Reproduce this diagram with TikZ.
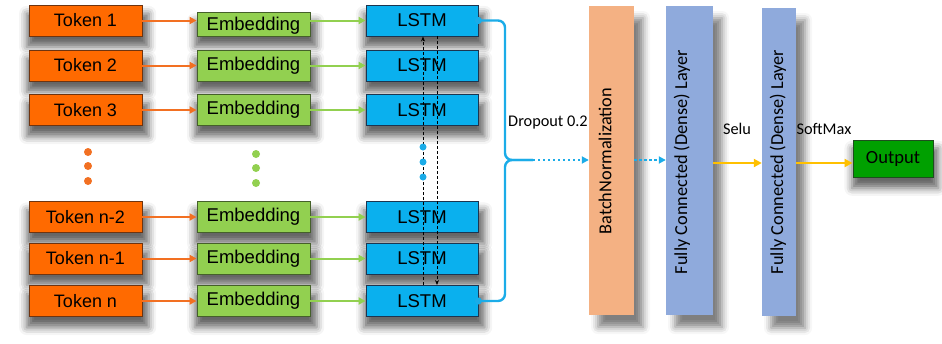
\documentclass[tikz,border=0pt]{standalone}
\usepackage{fontspec}
\setmainfont{Liberation Sans}
\newfontfamily\calfont{Carlito}
\usetikzlibrary{shadows.blur,arrows.meta,calc}

\definecolor{tokfill}{HTML}{FF6A00}
\definecolor{tokline}{HTML}{6E3410}
\definecolor{embfill}{HTML}{92D050}
\definecolor{embline}{HTML}{45602A}
\definecolor{lstmfill}{HTML}{0AB0EE}
\definecolor{lstmline}{HTML}{1C3550}
\definecolor{bnfill}{HTML}{F4B183}
\definecolor{densefill}{HTML}{8FAADC}
\definecolor{outfill}{HTML}{00A000}
\definecolor{outline}{HTML}{1E4E1E}
\definecolor{orarrow}{HTML}{F27022}
\definecolor{grarrow}{HTML}{92D050}
\definecolor{bluebr}{HTML}{1BACE8}
\definecolor{yelarrow}{HTML}{FFC000}

\tikzset{
  softshadow/.style={blur shadow={shadow xshift=2pt, shadow yshift=-9pt,
      shadow blur radius=7pt, shadow scale=1.08, shadow opacity=60}},
  tallshadow/.style={blur shadow={shadow xshift=9pt, shadow yshift=-12pt,
      shadow blur radius=7pt, shadow opacity=50}},
  rowbox/.style={draw, line width=0.9pt, minimum height=31pt, inner sep=0pt,
      softshadow},
  tokbox/.style={rowbox, fill=tokfill, draw=tokline, minimum width=113pt,
      font=\fontsize{18}{21}\selectfont},
  embbox/.style={rowbox, fill=embfill, draw=embline, minimum width=113pt,
      font=\fontsize{18.5}{21}\selectfont},
  lstmbox/.style={rowbox, fill=lstmfill, draw=lstmline, minimum width=112pt,
      font=\fontsize{18.5}{21}\selectfont},
  tallbox/.style={inner sep=0pt, tallshadow},
  layertext/.style={rotate=90, font=\calfont\fontsize{18.3}{21}\selectfont},
  labeltext/.style={font=\calfont\fontsize{16.3}{19}\selectfont},
  orangearrow/.style={draw=orarrow, line width=2pt,
      -{Triangle[length=7pt,width=7pt]}},
  greenarrow/.style={draw=grarrow, line width=2pt,
      -{Triangle[length=7pt,width=7pt]}},
  blueline/.style={draw=bluebr, line width=2.4pt},
  bluedotted/.style={draw=bluebr, line width=2.4pt, dash pattern=on 2.4pt off 2.6pt,
      -{Triangle[length=7pt,width=7pt]}},
  yellowarrow/.style={draw=yelarrow, line width=2.4pt,
      -{Triangle[length=8pt,width=8pt]}},
  recurrent/.style={draw=black, line width=0.8pt, dash pattern=on 3pt off 2pt,
      -{Stealth[length=5pt,width=4pt]}},
  dotmark/.style={circle, inner sep=0pt, minimum size=8pt},
}

\begin{document}
\begin{tikzpicture}[x=1pt,y=-1pt]
\useasboundingbox (0,0) rectangle (942,343);

% token column
\node[tokbox] (t1) at (85.5,20.5) {Token 1};
\node[tokbox] (t2) at (85.5,65.5) {Token 2};
\node[tokbox] (t3) at (85.5,110) {Token 3};
\node[tokbox] (t4) at (85.5,217) {Token n-2};
\node[tokbox] (t5) at (85.5,258.5) {Token n-1};
\node[tokbox] (t6) at (85.5,301) {Token n};

% embedding column
\node[embbox, minimum height=24pt, text depth=-3pt] (e1) at (253.5,24) {Embedding};
\node[embbox] (e2) at (253.5,65.5) {Embedding};
\node[embbox] (e3) at (253.5,110) {Embedding};
\node[embbox] (e4) at (253.5,217) {Embedding};
\node[embbox] (e5) at (253.5,258.5) {Embedding};
\node[embbox] (e6) at (253.5,301) {Embedding};

% LSTM column
\node[lstmbox] (l1) at (422,20.5) {LSTM};
\node[lstmbox] (l2) at (422,65.5) {LSTM};
\node[lstmbox] (l3) at (422,110) {LSTM};
\node[lstmbox] (l4) at (422,217) {LSTM};
\node[lstmbox] (l5) at (422,258.5) {LSTM};
\node[lstmbox] (l6) at (422,301) {LSTM};

% ellipsis dots
\foreach \i/\y in {1/152,2/166,3/181}{
  \node[dotmark, fill=orarrow] (od\i) at (88,\y) {};
  \node[dotmark, fill=grarrow] (gd\i) at (256,\y+2) {};
}

% token -> embedding -> LSTM, level with each row
\foreach \i in {1,...,6}{
  \draw[orangearrow] (t\i.east) -- (e\i.west |- t\i.east);
  \draw[greenarrow] (e\i.east |- l\i.west) -- (l\i.west);
}

% recurrent links across the LSTM stack
\draw[recurrent] ([xshift=1pt]l6.north) -- ([xshift=1pt]l1.south);
\draw[recurrent] ([xshift=15pt]l1.south) -- ([xshift=15pt]l6.north);
\foreach \i/\y in {1/147,2/162,3/177}
  \node[dotmark, fill=bluebr, minimum size=7pt] (bd\i) at (423,\y) {};

% dense stack
\node[tallbox, fill=bnfill, minimum width=45pt, minimum height=309pt] (bn) at (611.5,160.5) {};
\node[layertext] (bnt) at (605,161) {BatchNormalization};
\node[tallbox, fill=densefill, minimum width=47pt, minimum height=309pt] (d1) at (689.5,160.5) {};
\node[layertext] (d1t) at (682,162) {Fully Connected (Dense) Layer};
\node[tallbox, fill=densefill, minimum width=34pt, minimum height=308pt] (d2) at (779,162) {};
\node[layertext] (d2t) at (778,162) {Fully Connected (Dense) Layer};

\node[draw=outline, line width=0.9pt, fill=outfill, minimum width=80pt, minimum height=37pt,
      inner sep=0pt, softshadow, font=\calfont\fontsize{18.6}{21}\selectfont] (out) at (893,158.5) {Output};

% merge brace from the LSTM outputs
\coordinate (brmid) at (505,160);
\coordinate (brtip) at (533,160);
\node[dotmark, fill=bluebr, minimum size=7pt] (s1) at (l1.east) {};
\node[dotmark, fill=bluebr, minimum size=7pt] (s6) at (l6.east) {};
\draw[blueline, rounded corners=7pt] (s1.center) -| (brmid) -- (brtip);
\draw[blueline, rounded corners=7pt] (s6.center) -| (brmid) -- (brtip);
\draw[bluedotted] (brtip) -- (bn.west |- brtip);
\draw[bluedotted] (bn.east |- brtip) -- (d1.west |- brtip);

\coordinate (ay) at (0,163);
\draw[yellowarrow] (d1.east |- ay) -- (d2.west |- ay);
\draw[yellowarrow] (d2.east |- ay) -- (out.west |- ay);

% labels
\node[labeltext] (dropl) at (548,123) {Dropout 0.2};
\node[labeltext] (selul) at (737,129) {Selu};
\node[labeltext] (softl) at (824,129) {SoftMax};
\end{tikzpicture}
\end{document}
